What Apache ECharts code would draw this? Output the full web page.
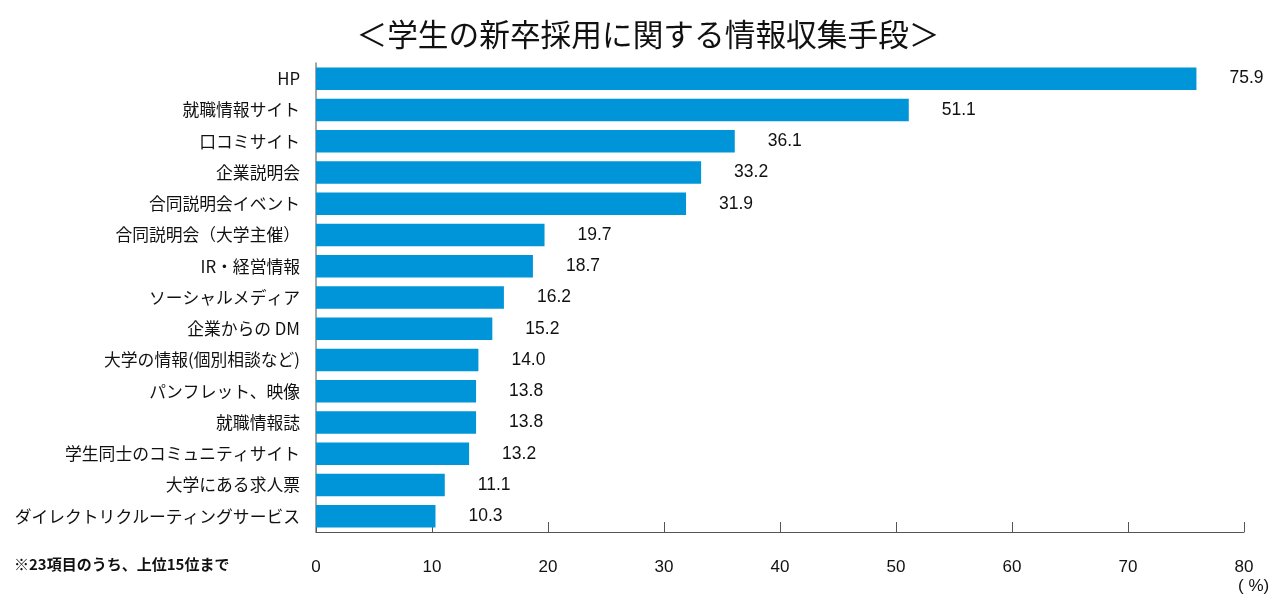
<!DOCTYPE html>
<html><head><meta charset="utf-8">
<script src="https://cdn.jsdelivr.net/npm/echarts@6/dist/echarts.min.js"></script>
<style>html,body{margin:0;padding:0;background:#fff}#c{width:1280px;height:597px}</style>
</head><body><div id="c"></div>
<script>
const categories = ["HP","就職情報サイト","口コミサイト","企業説明会","合同説明会イベント","合同説明会（大学主催）","IR・経営情報","ソーシャルメディア","企業からの DM","大学の情報(個別相談など)","パンフレット、映像","就職情報誌","学生同士のコミュニティサイト","大学にある求人票","ダイレクトリクルーティングサービス"];
const values = [75.9,51.1,36.1,33.2,31.9,19.7,18.7,16.2,15.2,14.0,13.8,13.8,13.2,11.1,10.3];
const xTicks = [0,10,20,30,40,50,60,70,80];
const titleText = "＜学生の新卒採用に関する情報収集手段＞";
const noteText = "※23項目のうち、上位15位まで";
const unitText = "( %)";

const jp = '"Noto Sans CJK JP", "Noto Sans", sans-serif';
const num = '"Liberation Sans", Arial, sans-serif';
const chart = echarts.init(document.getElementById('c'));
chart.setOption({
  animation: false,
  title: { text: titleText, left: 643, top: 14, textAlign: 'center',
    textStyle: { fontFamily: jp, fontSize: 30.7, fontWeight: 'normal', color: '#111' } },
  grid: { left: 316, right: 36, top: 63, bottom: 65, containLabel: false },
  xAxis: { type: 'value', min: 0, max: 80, interval: 10,
    axisLine: { show: true, lineStyle: { color: '#555', width: 1 } },
    axisTick: { show: true, inside: true, length: 10, lineStyle: { color: '#555' } },
    splitLine: { show: false },
    axisLabel: { margin: 27, fontFamily: num, fontSize: 17, color: '#111',
      formatter: v => xTicks.includes(v) ? String(v) : '' } },
  yAxis: { type: 'category', data: categories, inverse: true,
    axisLine: { show: true, lineStyle: { color: '#888', width: 1.5 } },
    axisTick: { show: false },
    axisLabel: { margin: 16, fontFamily: jp, fontSize: 16.8, color: '#111' } },
  series: [{ type: 'bar', data: values, barCategoryGap: '28%',
    itemStyle: { color: '#0094d8' },
    label: { show: true, position: 'right', distance: 33, fontFamily: num, fontSize: 17.5, color: '#111',
      formatter: p => p.value.toFixed(1) } }],
  graphic: [
    { type: 'text', left: 14, top: 557, style: { text: noteText, font: 'bold 15px ' + jp, fill: '#111' } },
    { type: 'text', left: 1238, top: 578, style: { text: unitText, font: '17px ' + num, fill: '#111' } }
  ]
});
</script></body></html>
